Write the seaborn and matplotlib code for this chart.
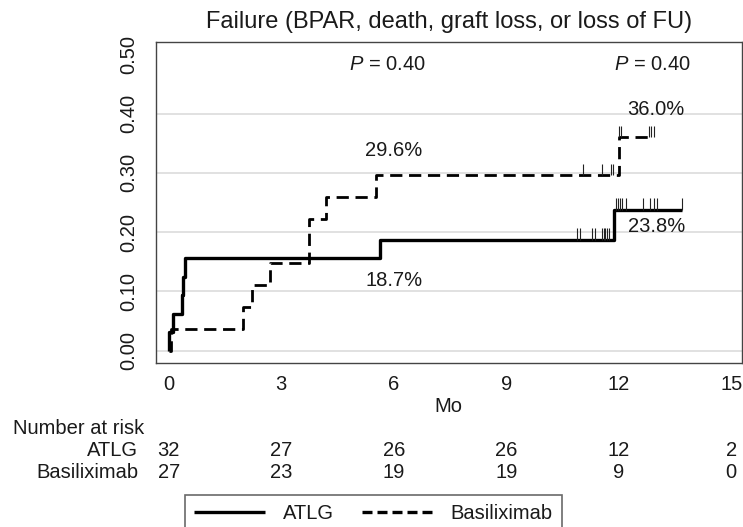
import numpy as np
import pandas as pd
import matplotlib
matplotlib.use('Agg')
import matplotlib.pyplot as plt
import matplotlib.transforms as mtransforms
from matplotlib.lines import Line2D
import seaborn as sns

# step curves (months, cumulative failure)
atlg_t = [0, 0.02, 0.12, 0.35, 0.39, 0.43, 5.63, 11.88, 13.68]
atlg_y = [0, 0.031, 0.0625, 0.094, 0.125, 0.156, 0.1875, 0.238, 0.238]
basi_t = [0, 0.05, 1.97, 2.21, 2.70, 3.75, 4.19, 5.53, 12.0, 12.9]
basi_y = [0, 0.037, 0.074, 0.111, 0.148, 0.222, 0.259, 0.296, 0.36, 0.36]

# censored observations
atlg_cens_t = [10.9, 10.97, 11.3, 11.37, 11.55, 11.6, 11.64, 11.68, 11.74,
               11.93, 11.97, 12.03, 12.1, 12.19, 12.64, 12.83, 12.94, 13.03, 13.68]
atlg_cens_y = [0.1875] * 9 + [0.238] * 10
basi_cens_t = [11.06, 11.55, 11.79, 11.86, 12.01, 12.06, 12.81, 12.86, 12.94]
basi_cens_y = [0.296] * 4 + [0.36] * 5

# number at risk table
risk_times = [0, 3, 6, 9, 12, 15]
atlg_risk = [32, 27, 26, 26, 12, 2]
basi_risk = [27, 23, 19, 19, 9, 0]

# text annotations
pct_labels = ['29.6%', '18.7%', '36.0%', '23.8%']
pct_x = [6.0, 6.0, 13.0, 13.0]
pct_y = [0.338, 0.119, 0.407, 0.209]
p_labels = ['$P$ = 0.40', '$P$ = 0.40']
p_x = [5.82, 12.9]
p_y = [0.482, 0.482]

sns.set_style('white')
plt.rcParams['font.family'] = ['Liberation Sans', 'DejaVu Sans']
plt.rcParams['mathtext.fontset'] = 'custom'
plt.rcParams['mathtext.rm'] = 'Liberation Sans'
plt.rcParams['mathtext.it'] = 'Liberation Sans:italic'

txt = '#1a1a1a'
fs = 14.5

fig = plt.figure(figsize=(7.43, 5.27), dpi=100)
ax = fig.add_axes([156 / 743, 1 - 362.7 / 527, (741.7 - 156) / 743, (362.7 - 42.3) / 527])

sns.lineplot(x=atlg_t, y=atlg_y, drawstyle='steps-post', estimator=None,
             color='black', lw=2.4, solid_capstyle='butt', ax=ax)
sns.lineplot(x=basi_t, y=basi_y, drawstyle='steps-post', estimator=None,
             color='black', lw=2.0, linestyle=(0, (4.4, 2.4)), dash_capstyle='butt', ax=ax)

ax.vlines(atlg_cens_t, atlg_cens_y, np.array(atlg_cens_y) + 0.0195, color='#222222', lw=0.8)
ax.vlines(basi_cens_t, basi_cens_y, np.array(basi_cens_y) + 0.0195, color='#222222', lw=0.8)

ax.set_xlim(-0.34, 15.28)
ax.set_ylim(-0.0202, 0.5202)
ax.set_xticks(risk_times)
ax.set_xticks(np.arange(0, 16), minor=True)
yt = [0, 0.1, 0.2, 0.3, 0.4, 0.5]
ax.set_yticks(yt)
ax.set_yticklabels([f'{v:.2f}' for v in yt], rotation=90, va='center')

for v in yt[:-1]:
    ax.axhline(v, color='#dcdcdc', lw=1.2, zorder=0)

ax.tick_params(axis='both', which='both', length=6.5, width=0.9, color='#555555',
               labelsize=fs, labelcolor=txt)
ax.tick_params(axis='x', which='both', pad=2.5)
ax.tick_params(axis='y', pad=6)
for s in ax.spines.values():
    s.set_color('#444444')
    s.set_linewidth(1.0)

ax.set_title('Failure (BPAR, death, graft loss, or loss of FU)', fontsize=17, color=txt, pad=10)
ax.set_xlabel('Mo', fontsize=fs, color=txt, labelpad=2)
ax.set_ylabel('')

for lab, x, y in zip(pct_labels, pct_x, pct_y):
    ax.text(x, y, lab, fontsize=fs, color=txt, ha='center', va='center')
for lab, x, y in zip(p_labels, p_x, p_y):
    ax.text(x, y, lab, fontsize=fs, color=txt, ha='center', va='center')

# number at risk
trans = mtransforms.blended_transform_factory(ax.transData, fig.transFigure)
fig.text(13 / 743, 1 - 428 / 527, 'Number at risk', fontsize=fs, color=txt, ha='left', va='center')
fig.text(138 / 743, 1 - 450 / 527, 'ATLG', fontsize=fs, color=txt, ha='right', va='center')
fig.text(138 / 743, 1 - 473 / 527, 'Basiliximab', fontsize=fs, color=txt, ha='right', va='center')
for t, a, b in zip(risk_times, atlg_risk, basi_risk):
    ax.text(t, 1 - 450 / 527, str(a), transform=trans, fontsize=fs, color=txt,
            ha='center', va='center', clip_on=False)
    ax.text(t, 1 - 473 / 527, str(b), transform=trans, fontsize=fs, color=txt,
            ha='center', va='center', clip_on=False)

handles = [Line2D([], [], color='black', lw=2.4, solid_capstyle='butt'),
           Line2D([], [], color='black', lw=2.4, linestyle=(0, (3.0, 1.5)), dash_capstyle='butt')]
leg = fig.legend(handles, ['ATLG', 'Basiliximab'], loc='upper left',
                 bbox_to_anchor=(185 / 743, 1 - 495 / 527), ncol=2, fontsize=fs,
                 frameon=True, fancybox=False, edgecolor='#444444', handlelength=3.5,
                 handletextpad=0.9, columnspacing=1.4, borderpad=0.45, borderaxespad=0)
leg.get_frame().set_linewidth(1.2)
for t in leg.get_texts():
    t.set_color(txt)

fig.savefig('out.png', dpi=100)
